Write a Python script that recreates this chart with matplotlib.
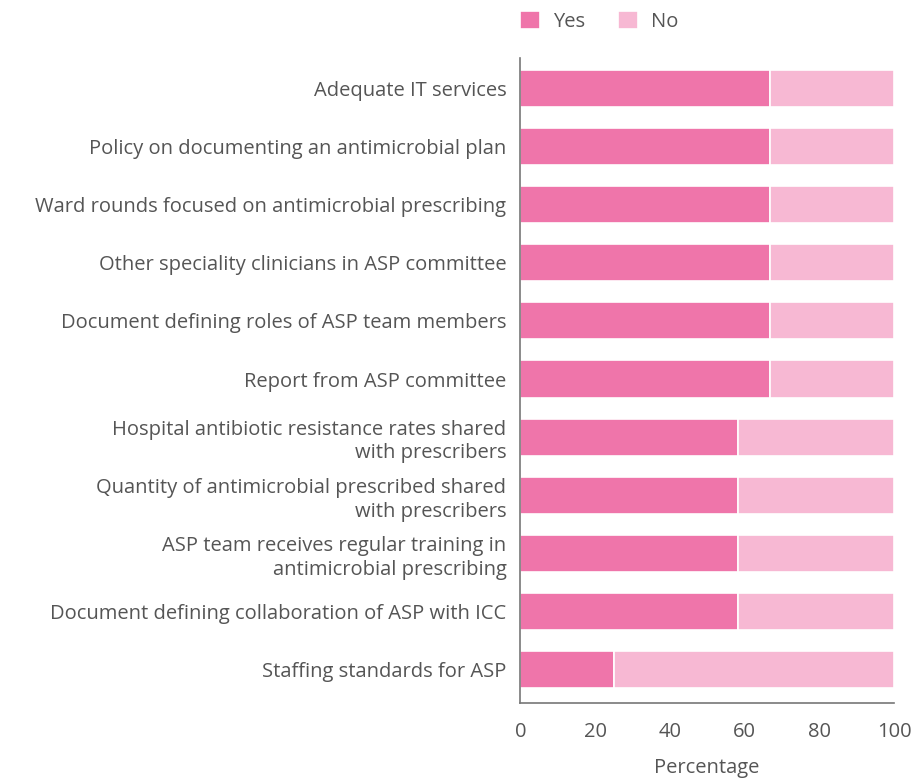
#!/usr/bin/env python
# grafico de barras horizontais empilhadas: Yes / No por indicador do ASP
import matplotlib
matplotlib.use('Agg')
import matplotlib.pyplot as plt
import numpy as np

# categorias (de cima para baixo)
categorias = [
    'Adequate IT services',
    'Policy on documenting an antimicrobial plan',
    'Ward rounds focused on antimicrobial prescribing',
    'Other speciality clinicians in ASP committee',
    'Document defining roles of ASP team members',
    'Report from ASP committee',
    'Hospital antibiotic resistance rates shared\nwith prescribers',
    'Quantity of antimicrobial prescribed shared\nwith prescribers',
    'ASP team receives regular training in\nantimicrobial prescribing',
    'Document defining collaboration of ASP with ICC',
    'Staffing standards for ASP',
]

# percentuais
yes = [66.7, 66.7, 66.7, 66.7, 66.7, 66.7, 58.3, 58.3, 58.3, 58.3, 25.0]
no = [33.3, 33.3, 33.3, 33.3, 33.3, 33.3, 41.7, 41.7, 41.7, 41.7, 75.0]

xticks = [0, 20, 40, 60, 80, 100]

cor_yes = '#EF75AA'
cor_no = '#F7B8D3'
cor_texto = '#555555'
fs = 14.5

plt.rcParams['font.family'] = ['Open Sans', 'DejaVu Sans']

fig = plt.figure(figsize=(9.16, 7.8), dpi=100)
ax = fig.add_axes([0.568, 0.0987, 0.408, 0.827])

y = np.arange(len(categorias))
ax.barh(y, yes, height=0.64, color=cor_yes, edgecolor='white', linewidth=1.2, label='Yes')
ax.barh(y, no, left=yes, height=0.64, color=cor_no, edgecolor='white', linewidth=1.2, label='No')

ax.set_ylim(len(categorias) - 0.43, -0.52)
ax.set_xlim(0, 100)
ax.set_yticks(y)
ax.set_yticklabels(categorias, fontsize=fs, color=cor_texto, linespacing=1.25)
ax.set_xticks(xticks)
ax.set_xticklabels([str(t) for t in xticks], fontsize=fs, color=cor_texto)
ax.tick_params(axis='both', length=0)
ax.tick_params(axis='y', pad=10)
ax.tick_params(axis='x', pad=14)
ax.set_xlabel('Percentage', fontsize=fs, color=cor_texto, labelpad=11)

for lado in ['top', 'right']:
    ax.spines[lado].set_visible(False)
for lado in ['left', 'bottom']:
    ax.spines[lado].set_color('#777777')
    ax.spines[lado].set_linewidth(1.2)

ax.legend(loc='lower left', bbox_to_anchor=(-0.034, 1.021), ncol=2, frameon=False,
          fontsize=fs, labelcolor=cor_texto, handlelength=1.0, handleheight=1.0,
          columnspacing=1.65, handletextpad=0.65, borderaxespad=0.2)

fig.savefig('out.png', dpi=100)
